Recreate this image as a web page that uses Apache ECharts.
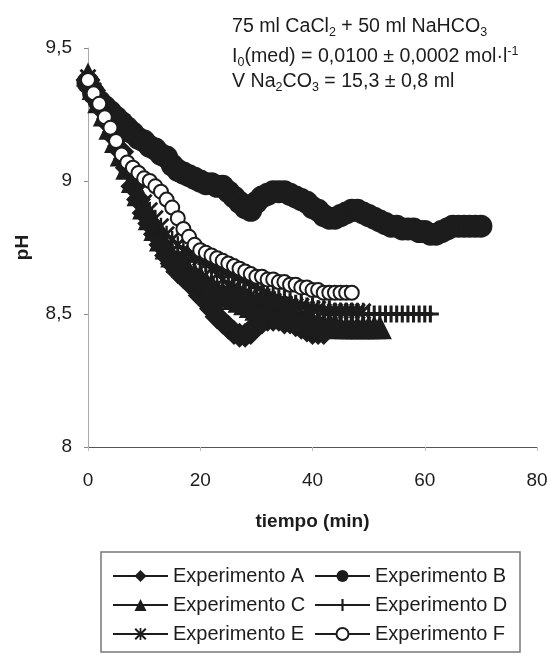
<!DOCTYPE html>
<html>
<head>
<meta charset="utf-8">
<script src="https://cdn.jsdelivr.net/npm/echarts@6/dist/echarts.min.js"></script>
<style>html,body{margin:0;padding:0;background:#fff;}#chart{width:547px;height:655px;}</style>
</head>
<body>
<div id="chart"></div>
<script>
// ---- data ----
const tiempo = [0,1,2,3,4,5,6,7,8,9,10,11,12,13,14,15,16,17,18,19,20,21,22,23,24,25,26,27,28,29,30,31,32,33,34,35,36,37,38,39,40,41,42,43,44,45,46,47,48,49,50,51,52,53,54,55,56,57,58,59,60,61,62,63,64,65,66,67,68,69,70];
const expA = [9.38,9.34,9.30,9.26,9.21,9.16,9.11,9.05,8.98,8.93,8.88,8.84,8.80,8.76,8.72,8.69,8.66,8.64,8.62,8.60,8.57,8.55,8.52,8.49,8.47,8.45,8.43,8.42,8.42,8.43,8.46,8.47,8.48,8.48,8.48,8.47,8.47,8.46,8.45,8.44,8.43,8.43,8.43];
const expB = [9.37,9.33,9.30,9.28,9.26,9.24,9.22,9.20,9.18,9.16,9.15,9.13,9.12,9.10,9.09,9.06,9.04,9.03,9.02,9.01,9.00,8.99,8.99,8.98,8.98,8.96,8.94,8.92,8.90,8.89,8.92,8.94,8.95,8.96,8.96,8.96,8.95,8.94,8.93,8.92,8.90,8.89,8.87,8.86,8.86,8.87,8.88,8.89,8.89,8.88,8.87,8.86,8.85,8.84,8.83,8.83,8.82,8.82,8.82,8.81,8.81,8.80,8.80,8.81,8.82,8.83,8.83,8.83,8.83,8.83,8.83];
const expC = [9.40,9.35,9.30,9.25,9.20,9.15,9.10,9.05,9.00,8.95,8.90,8.86,8.82,8.78,8.75,8.72,8.70,8.68,8.66,8.65,8.64,8.62,8.61,8.59,8.58,8.57,8.56,8.55,8.54,8.53,8.52,8.52,8.51,8.51,8.50,8.50,8.49,8.49,8.48,8.48,8.47,8.47,8.46,8.46,8.46,8.45,8.45,8.45,8.45,8.45,8.45,8.45,8.45];
const expD = [9.38,9.33,9.28,9.23,9.18,9.13,9.08,9.03,8.98,8.93,8.88,8.83,8.79,8.76,8.74,8.73,8.72,8.71,8.70,8.70,8.70,8.69,8.68,8.67,8.66,8.65,8.64,8.63,8.62,8.61,8.60,8.59,8.58,8.57,8.56,8.56,8.55,8.54,8.54,8.53,8.53,8.52,8.52,8.52,8.51,8.51,8.51,8.51,8.50,8.50,8.50,8.50,8.50,8.50,8.50,8.50,8.50,8.50,8.50,8.50,8.50,8.50];
const expE = [9.39,9.34,9.29,9.24,9.19,9.14,9.09,9.04,9.00,8.96,8.92,8.89,8.86,8.83,8.80,8.78,8.76,8.74,8.73,8.72,8.71,8.69,8.67,8.65,8.63,8.61,8.60,8.59,8.58,8.57,8.56,8.56,8.55,8.55,8.54,8.54,8.53,8.53,8.53,8.52,8.52,8.52,8.51,8.51,8.51,8.51,8.51,8.51,8.51,8.51];
const expF = [9.38,9.33,9.29,9.24,9.20,9.15,9.10,9.07,9.05,9.03,9.01,9.00,8.98,8.96,8.93,8.90,8.86,8.82,8.79,8.76,8.74,8.73,8.72,8.71,8.70,8.69,8.68,8.67,8.66,8.65,8.64,8.64,8.63,8.63,8.62,8.62,8.61,8.61,8.60,8.60,8.59,8.59,8.58,8.58,8.58,8.58,8.58,8.58];
const seriesNames = ['Experimento A','Experimento B','Experimento C','Experimento D','Experimento E','Experimento F'];
const xTicks = [0,20,40,60,80];
const yTicks = [8,8.5,9,9.5];

// ---- drawing ----
const INK = '#1c1c1c';
const FONT = 'Liberation Sans, Arial, sans-serif';
const plusPath = 'path://M0,4.1 L10,4.1 L10,5.9 L0,5.9 Z M4.1,0 L5.9,0 L5.9,10 L4.1,10 Z';
const starPath = 'path://M0,1.2 L1.2,0 L10,8.8 L8.8,10 Z M8.8,0 L10,1.2 L1.2,10 L0,8.8 Z M4.3,0 L5.7,0 L5.7,10 L4.3,10 Z';
const symbols = ['diamond','circle','triangle',plusPath,starPath,'emptyCircle'];
const sizes = [25,23,24,17,17,14];
const values = [expA,expB,expC,expD,expE,expF];

function pairs(vals){ return vals.map((v,i)=>[tiempo[i], v]); }

const series = values.map((vals,k)=>({
  name: seriesNames[k],
  type: 'line',
  data: pairs(vals),
  symbol: symbols[k],
  symbolSize: sizes[k],
  showSymbol: true,
  showAllSymbol: true,
  z: 2 + k,
  itemStyle: k===5 ? {color: INK, borderColor: INK, borderWidth: 2} : {color: INK, borderColor: INK, borderWidth: 0},
  lineStyle: {color: INK, width: 4},
  emphasis: {disabled: true},
  animation: false
}));

const legendText = {fontFamily: FONT, fontSize: 20, color: INK, lineHeight: 20};
const annFont = 19.6;

const chart = echarts.init(document.getElementById('chart'), null, {renderer:'canvas'});
chart.setOption({
  animation: false,
  backgroundColor: '#fff',
  grid: {left: 88, top: 48, right: 10, bottom: 208, containLabel: false, outerBoundsMode: 'none'},
  xAxis: {
    type: 'value', min: xTicks[0], max: xTicks[xTicks.length-1], interval: 20,
    name: 'tiempo (min)', nameLocation: 'middle', nameGap: 65,
    nameTextStyle: {fontFamily: FONT, fontSize: 19, fontWeight: 'bold', color: INK},
    axisLine: {show: true, lineStyle: {color: '#555', width: 1}},
    axisTick: {show: true, length: 4, lineStyle: {color: '#bbb'}},
    axisLabel: {margin: 24, fontFamily: FONT, fontSize: 19, color: INK},
    splitLine: {show: false}
  },
  yAxis: {
    type: 'value', min: yTicks[0], max: yTicks[yTicks.length-1], interval: 0.5,
    name: 'pH', nameLocation: 'middle', nameGap: 56, nameRotate: 90,
    nameTextStyle: {fontFamily: FONT, fontSize: 19, fontWeight: 'bold', color: INK},
    axisLine: {show: true, lineStyle: {color: '#aaa', width: 1}},
    axisTick: {show: true, length: 4, lineStyle: {color: '#888'}},
    axisLabel: {margin: 16, fontFamily: FONT, fontSize: 19, color: INK,
      formatter: v => String(v).replace('.', ',')},
    splitLine: {show: false}
  },
  legend: [
    {data: [seriesNames[0], seriesNames[2], seriesNames[4]], orient: 'vertical', left: 107, top: 561,
     itemWidth: 55, itemHeight: 15, itemGap: 9, textStyle: legendText, selectedMode: false,
     lineStyle: {width: 2}},
    {data: [seriesNames[1], seriesNames[3], seriesNames[5]], orient: 'vertical', left: 309, top: 561,
     itemWidth: 55, itemHeight: 15, itemGap: 9, textStyle: legendText, selectedMode: false,
     lineStyle: {width: 2}}
  ],
  graphic: [
    {type: 'rect', shape: {x: 101, y: 552, width: 419, height: 100}, style: {fill: 'none', stroke: '#777', lineWidth: 1.5}, z: 0},
    {type: 'text', x: 232, y: 15, style: {text: '75 ml CaCl{s|2} + 50 ml NaHCO{s|3}', fontFamily: FONT, fontSize: annFont, lineHeight: 24, fill: INK,
      rich: {s: {fontFamily: FONT, fontSize: 12.5, lineHeight: 12, verticalAlign: 'bottom', fill: INK}}}},
    {type: 'text', x: 232, y: 45, style: {text: 'I{s|0}(med) = 0,0100 ± 0,0002 mol·l{p|-1}', fontFamily: FONT, fontSize: annFont, lineHeight: 24, fill: INK,
      rich: {s: {fontFamily: FONT, fontSize: 12.5, lineHeight: 12, verticalAlign: 'bottom', fill: INK},
             p: {fontFamily: FONT, fontSize: 12.5, lineHeight: 12, verticalAlign: 'top', fill: INK}}}},
    {type: 'text', x: 232, y: 70, style: {text: 'V Na{s|2}CO{s|3} = 15,3 ± 0,8 ml', fontFamily: FONT, fontSize: annFont, lineHeight: 24, fill: INK,
      rich: {s: {fontFamily: FONT, fontSize: 12.5, lineHeight: 12, verticalAlign: 'bottom', fill: INK}}}}
  ],
  series: series
});
</script>
</body>
</html>
